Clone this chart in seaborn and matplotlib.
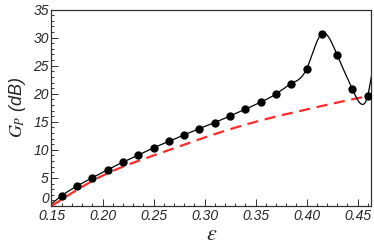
import numpy as np
import pandas as pd
import matplotlib
matplotlib.use("Agg")
import matplotlib.pyplot as plt
from matplotlib.ticker import MultipleLocator
import seaborn as sns

# ------------------------
# Data
# ------------------------
eps_pts = [0.160, 0.175, 0.190, 0.205, 0.220, 0.235, 0.250, 0.265, 0.280, 0.295,
           0.310, 0.325, 0.340, 0.355, 0.370, 0.385, 0.400, 0.415, 0.430, 0.445, 0.460]
gain_pts = [1.83, 3.55, 5.03, 6.45, 7.80, 9.06, 10.36, 11.50, 12.66, 13.80,
            14.87, 16.04, 17.23, 18.50, 19.95, 21.80, 24.40, 30.70, 26.90, 20.80, 19.66]

# extra knots of the solid curve that are not markers (start, dip, right edge)
curve_extra_x = [0.150, 0.4547, 0.4637]
curve_extra_y = [0.40, 18.10, 23.20]

# red dashed reference curve
ref_x = [0.150, 0.200, 0.250, 0.300, 0.350, 0.400, 0.450, 0.464]
ref_y = [0.00, 5.40, 9.00, 12.20, 15.00, 17.20, 19.20, 19.70]

x_ticks = [0.15, 0.20, 0.25, 0.30, 0.35, 0.40, 0.45]
y_ticks = [0, 5, 10, 15, 20, 25, 30, 35]


def natural_spline(xk, yk, xs):
    xk = np.asarray(xk, float)
    yk = np.asarray(yk, float)
    n = len(xk)
    h = np.diff(xk)
    A = np.zeros((n, n))
    r = np.zeros(n)
    A[0, 0] = A[-1, -1] = 1
    for i in range(1, n - 1):
        A[i, i - 1] = h[i - 1]
        A[i, i] = 2 * (h[i - 1] + h[i])
        A[i, i + 1] = h[i]
        r[i] = 3 * ((yk[i + 1] - yk[i]) / h[i] - (yk[i] - yk[i - 1]) / h[i - 1])
    c = np.linalg.solve(A, r)
    b = (yk[1:] - yk[:-1]) / h - h * (2 * c[:-1] + c[1:]) / 3
    d = (c[1:] - c[:-1]) / (3 * h)
    idx = np.clip(np.searchsorted(xk, xs) - 1, 0, n - 2)
    dx = xs - xk[idx]
    return yk[idx] + b[idx] * dx + c[idx] * dx ** 2 + d[idx] * dx ** 3


# solid curve through markers + extra knots
knots = sorted(zip(eps_pts + curve_extra_x, gain_pts + curve_extra_y))
kx = [k[0] for k in knots]
ky = [k[1] for k in knots]
xs = np.linspace(0.15, 0.4637, 600)
solid = pd.DataFrame({"eps": xs, "gain": natural_spline(kx, ky, xs)})

xr = np.linspace(0.15, 0.464, 400)
dashed = pd.DataFrame({"eps": xr, "gain": natural_spline(ref_x, ref_y, xr)})
pts = pd.DataFrame({"eps": eps_pts, "gain": gain_pts})

# ------------------------
# Plot
# ------------------------
sns.set_style("ticks")
plt.rcParams["font.family"] = ["Liberation Sans", "DejaVu Sans"]
plt.rcParams["mathtext.fontset"] = "stix"

fig = plt.figure(figsize=(3.74, 2.45), dpi=100)
ax = fig.add_axes([0.1377, 0.1592, 0.8556, 0.8018])

sns.lineplot(data=dashed, x="eps", y="gain", ax=ax, color="#ff2a2a",
             linewidth=1.6, dashes=False, linestyle=(0, (5, 3)))
sns.lineplot(data=solid, x="eps", y="gain", ax=ax, color="black", linewidth=0.9)
sns.scatterplot(data=pts, x="eps", y="gain", ax=ax, color="black", s=36,
                edgecolor="black", linewidth=0, zorder=5)

ax.set_xlim(0.15, 0.4637)
ax.set_ylim(0, 35)
ax.set_xticks(x_ticks)
ax.set_yticks(y_ticks)
ax.set_xticklabels([f"{t:.2f}" for t in x_ticks], fontsize=10, style="italic")
ax.set_yticklabels([str(t) for t in y_ticks], fontsize=10, style="italic")
ax.get_yticklabels()[0].set_verticalalignment("bottom")
ax.xaxis.set_minor_locator(MultipleLocator(0.01))
ax.yaxis.set_minor_locator(MultipleLocator(1))
ax.tick_params(which="both", direction="in", top=False, right=False,
               color="#333333", width=0.7)
ax.tick_params(which="major", length=5, pad=2)
ax.tick_params(which="minor", length=2.5)

for s in ax.spines.values():
    s.set_visible(True)
    s.set_color("#333333")
    s.set_linewidth(0.9)

ax.set_xlabel(r"$\varepsilon$", fontsize=16, labelpad=1)
ax.set_ylabel(r"$G_P$ (dB)", fontsize=13, style="italic", labelpad=4)

plt.savefig("out.png", dpi=100)
plt.close()
